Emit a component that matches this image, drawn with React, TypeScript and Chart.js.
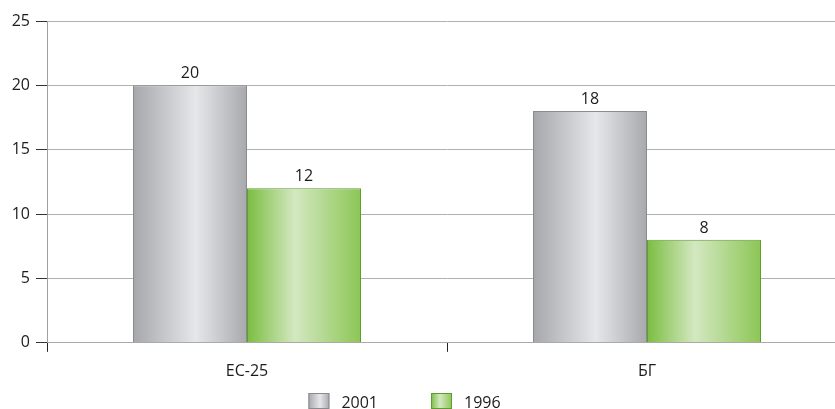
import React, { useEffect, useRef } from "react";
import { Chart, registerables } from "chart.js";

Chart.register(...registerables);

const categories = ["ЕС-25", "БГ"];
const series2001 = [20, 18];
const series1996 = [12, 8];
const seriesLabels = ["2001", "1996"];
const yTicks = [0, 5, 10, 15, 20, 25];

const FONT = "'Open Sans', 'Noto Sans', sans-serif";
const TEXT = "#1c1c1c";

const gradStops = [
  [
    [0, "#a6a7ab"],
    [0.55, "#e6e7e9"],
    [1, "#a8a9ad"],
  ],
  [
    [0, "#7cbd40"],
    [0.42, "#d3e8c1"],
    [1, "#8cc655"],
  ],
];
const borderColors = ["#8a8b8f", "#5d9b33"];

function makeGrad(ctx: CanvasRenderingContext2D, left: number, right: number, stops: any[]) {
  const g = ctx.createLinearGradient(left, 0, right, 0);
  stops.forEach((s) => g.addColorStop(s[0], s[1]));
  return g;
}

const gradientPlugin = {
  id: "barGradient",
  beforeDatasetsDraw(chart: any) {
    const ctx = chart.ctx;
    chart.data.datasets.forEach((ds: any, di: number) => {
      const meta = chart.getDatasetMeta(di);
      meta.data.forEach((el: any) => {
        const { x, width } = el.getProps(["x", "width"], true);
        const g = makeGrad(ctx, x - width / 2, x + width / 2, gradStops[di]);
        el.options = Object.assign({}, el.options, { backgroundColor: g });
      });
    });
  },
};

const valueLabelPlugin = {
  id: "valueLabels",
  afterDatasetsDraw(chart: any) {
    const ctx = chart.ctx;
    ctx.save();
    ctx.font = `16px ${FONT}`;
    ctx.fillStyle = TEXT;
    ctx.textAlign = "center";
    ctx.textBaseline = "alphabetic";
    chart.data.datasets.forEach((ds: any, di: number) => {
      const meta = chart.getDatasetMeta(di);
      meta.data.forEach((el: any, i: number) => {
        const { x, y } = el.getProps(["x", "y"], true);
        ctx.fillText(String(ds.data[i]), x, y - 7);
      });
    });
    ctx.restore();
  },
};

const legendPlugin = {
  id: "customLegend",
  afterDraw(chart: any) {
    const ctx = chart.ctx;
    ctx.save();
    ctx.font = `16px ${FONT}`;
    const boxW = 21;
    const boxH = 16;
    const textGap = 12;
    const itemGap = 53;
    const items = chart.data.datasets.map((ds: any) => ({
      label: ds.label,
      w: boxW + textGap + ctx.measureText(ds.label).width,
    }));
    const total = items.reduce((a: number, it: any) => a + it.w, 0) + itemGap * (items.length - 1);
    let x = 404.5 - total / 2;
    const top = 393;
    items.forEach((it: any, di: number) => {
      ctx.fillStyle = makeGrad(ctx, x, x + boxW, gradStops[di]);
      ctx.fillRect(x, top, boxW, boxH);
      ctx.strokeStyle = borderColors[di];
      ctx.lineWidth = 1;
      ctx.strokeRect(x + 0.5, top + 0.5, boxW - 1, boxH - 1);
      ctx.fillStyle = TEXT;
      ctx.textAlign = "left";
      ctx.textBaseline = "alphabetic";
      ctx.fillText(it.label, x + boxW + textGap, top + 15);
      x += it.w + itemGap;
    });
    ctx.restore();
  },
};

export default function App() {
  const ref = useRef<HTMLCanvasElement>(null);
  useEffect(() => {
    if (!ref.current) return;
    const chart = new Chart(ref.current, {
      type: "bar",
      data: {
        labels: categories,
        datasets: [
          {
            label: seriesLabels[0],
            data: series2001,
            backgroundColor: "#c8c9cc",
            borderColor: borderColors[0],
            borderWidth: 1,
          },
          {
            label: seriesLabels[1],
            data: series1996,
            backgroundColor: "#a8d47f",
            borderColor: borderColors[1],
            borderWidth: 1,
          },
        ],
      },
      options: {
        responsive: false,
        animation: false,
        events: [],
        layout: { padding: { left: 0, right: 3, top: 21, bottom: 18 } },
        datasets: { bar: { barPercentage: 1, categoryPercentage: 0.57 } },
        plugins: { legend: { display: false }, tooltip: { enabled: false } },
        scales: {
          x: {
            grid: {
              display: true,
              drawOnChartArea: false,
              drawTicks: true,
              tickLength: 9,
              tickColor: "#222222",
              offset: true,
            },
            border: { display: true, color: "#a8a8a8" },
            ticks: { color: TEXT, font: { family: FONT, size: 16 }, padding: 10 },
          },
          y: {
            min: 0,
            max: 25,
            afterFit: (s: any) => {
              s.width = 47;
            },
            afterBuildTicks: (s: any) => {
              s.ticks = yTicks.map((v) => ({ value: v }));
            },
            grid: {
              color: "#b0b0b0",
              lineWidth: 1,
              drawTicks: true,
              tickLength: 11,
              tickColor: "#333333",
            },
            border: { display: true, color: "#a0a0a0" },
            ticks: { color: TEXT, font: { family: FONT, size: 16 }, padding: 6 },
          },
        },
      },
      plugins: [gradientPlugin, valueLabelPlugin, legendPlugin],
    });
    return () => chart.destroy();
  }, []);
  return (
    <div style={{ position: "fixed", left: 0, top: 0, width: 835, height: 409, overflow: "hidden", background: "#fff" }}>
      <canvas ref={ref} width={850} height={409} style={{ display: "block" }} />
    </div>
  );
}
